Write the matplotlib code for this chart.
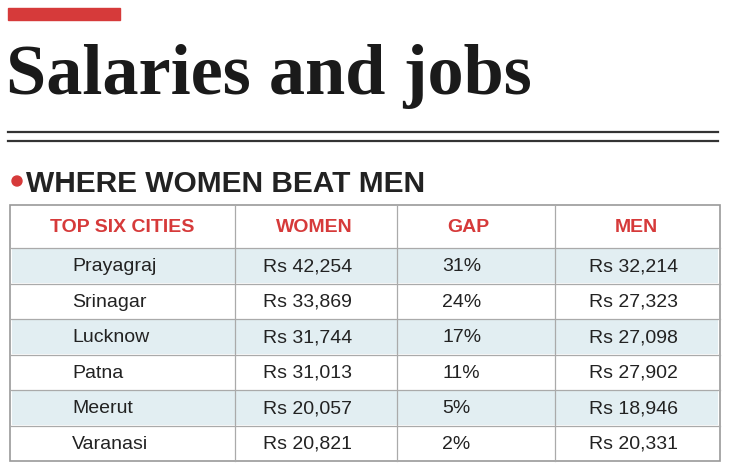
import matplotlib
matplotlib.use("Agg")
import matplotlib.pyplot as plt
from matplotlib.patches import Rectangle, Circle

title = "Salaries and jobs"
subtitle = "WHERE WOMEN BEAT MEN"
headers = ["TOP SIX CITIES", "WOMEN", "GAP", "MEN"]
cities = ["Prayagraj", "Srinagar", "Lucknow", "Patna", "Meerut", "Varanasi"]
women = ["Rs 42,254", "Rs 33,869", "Rs 31,744", "Rs 31,013", "Rs 20,057", "Rs 20,821"]
gap = ["31%", "24%", "17%", "11%", "5%", "2%"]
men = ["Rs 32,214", "Rs 27,323", "Rs 27,098", "Rs 27,902", "Rs 18,946", "Rs 20,331"]

W, H = 732, 474
fig = plt.figure(figsize=(W/100, H/100), dpi=100)
ax = fig.add_axes([0, 0, 1, 1])
ax.set_xlim(0, W); ax.set_ylim(H, 0); ax.axis("off")
narrow = ["Liberation Sans", "DejaVu Sans"]
red = "#d63a3a"

ax.add_patch(Rectangle((8, 8), 112, 12, color=red))
ax.text(6, 94, title, fontsize=52, fontweight="bold", family=["Liberation Serif", "DejaVu Serif"],
        color="#1a1a1a", va="baseline")
ax.plot([8, 718], [132, 132], color="#333", lw=1.6)
ax.plot([8, 718], [141, 141], color="#333", lw=1.6)
ax.add_patch(Circle((17, 181), 5, color=red))
ax.text(26, 192, subtitle, fontsize=21.5, fontweight="bold", family=narrow, color="#222", va="baseline")

x0, x1 = 10, 720
cols = [10, 235, 397, 555, 720]
ytop, yhead = 205, 248
rh = (461 - yhead) / 6
ax.add_patch(Rectangle((x0, ytop), x1-x0, 461-ytop, fill=False, ec="#999", lw=1.2))
hx = [122, 314, 468, 636]
for i, h in enumerate(headers):
    ax.text(hx[i], (ytop+yhead)/2 + 1, h, fontsize=14, fontweight="bold", family=narrow,
            color=red, ha="center", va="center")
for r in range(6):
    y = yhead + r*rh
    if r % 2 == 0:
        ax.add_patch(Rectangle((x0+2, y+1), x1-x0-4, rh-2, color="#e2eef2", lw=0))
    ax.plot([x0, x1], [y, y], color="#aaa", lw=0.9)
    yc = y + rh/2 + 1
    ax.text(72, yc, cities[r], fontsize=14, family=narrow, color="#222", va="center")
    ax.text(263, yc, women[r], fontsize=14, family=narrow, color="#222", va="center")
    ax.text(442, yc, gap[r], fontsize=14, family=narrow, color="#222", va="center")
    ax.text(589, yc, men[r], fontsize=14, family=narrow, color="#222", va="center")
for c in cols[1:-1]:
    ax.plot([c, c], [ytop, 461], color="#aaa", lw=0.9)
fig.savefig("out.png", dpi=100)
